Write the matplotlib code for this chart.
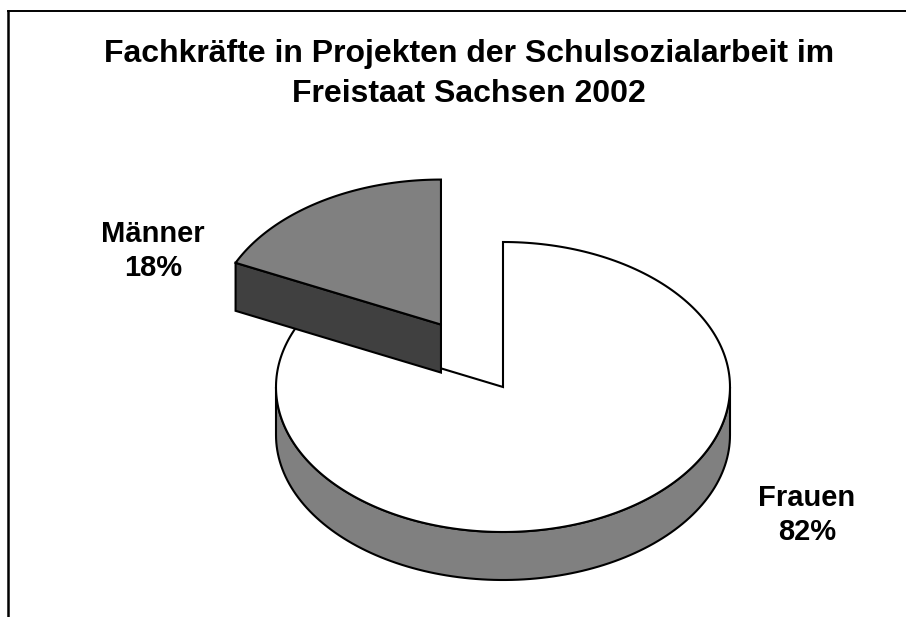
import numpy as np
import matplotlib
matplotlib.use("Agg")
import matplotlib.pyplot as plt
from matplotlib.patches import Polygon

# chart data
labels = ["Frauen", "Männer"]
shares = [82, 18]
title = "Fachkräfte in Projekten der Schulsozialarbeit im\nFreistaat Sachsen 2002"

# look of the 3d pie (pixel units)
cx, cy = 503, 387
rx, ry = 227, 145
depth = 48
explode = [0.0, 0.51]
top_colors = ["white", "#808080"]
wall_colors = ["#808080", "#404040"]
label_pos = [(807, 515), (153, 251)]

plt.rcParams["font.family"] = ["Liberation Sans", "DejaVu Sans"]

fig = plt.figure(figsize=(9.06, 6.17), dpi=100)
ax = fig.add_axes([0, 0, 1, 1])
ax.set_xlim(0, 906)
ax.set_ylim(617, 0)
ax.axis("off")


def pt(t, ox, oy, dz=0):
    r = np.radians(t)
    return cx + ox + rx * np.cos(r), cy + oy - ry * np.sin(r) + dz


# angles, clockwise from 12 o'clock like Excel
total = float(sum(shares))
edges = [90.0]
for s in shares:
    edges.append(edges[-1] - 360.0 * s / total)

for i in range(len(shares)):
    a0, a1 = edges[i], edges[i + 1]
    mid = np.radians((a0 + a1) / 2)
    ox = explode[i] * rx * np.cos(mid)
    oy = -explode[i] * ry * np.sin(mid)
    kw = dict(edgecolor="black", linewidth=1.5, joinstyle="miter")

    # outer wall, only the part that faces the viewer
    for k in (-1, 0, 1):
        lo = max(a1, k * 360 - 180)
        hi = min(a0, k * 360)
        if hi > lo:
            ts = np.linspace(lo, hi, 120)
            topp = [pt(t, ox, oy) for t in ts]
            bot = [pt(t, ox, oy, depth) for t in ts[::-1]]
            ax.add_patch(Polygon(topp + bot, closed=True,
                                 facecolor=wall_colors[i], **kw))

    # cut faces along the radius
    c_top = (cx + ox, cy + oy)
    c_bot = (cx + ox, cy + oy + depth)
    for t, vis in ((a0, np.cos(np.radians(a0)) < -1e-6),
                   (a1, np.cos(np.radians(a1)) > 1e-6)):
        if vis:
            p_top = pt(t, ox, oy)
            p_bot = pt(t, ox, oy, depth)
            ax.add_patch(Polygon([c_top, p_top, p_bot, c_bot], closed=True,
                                 facecolor=wall_colors[i], **kw))

    # top surface
    ts = np.linspace(a0, a1, 240)
    ax.add_patch(Polygon([c_top] + [pt(t, ox, oy) for t in ts], closed=True,
                         facecolor=top_colors[i], **kw))

    ax.text(label_pos[i][0], label_pos[i][1], f"{labels[i]}\n{shares[i]}%",
            ha="center", va="center", fontsize=21, fontweight="bold",
            linespacing=1.3)

ax.text(469, 74, title, ha="center", va="center", fontsize=23,
        fontweight="bold", linespacing=1.4)

# chart area border (cropped)
ax.plot([8, 906], [11, 11], color="black", linewidth=1.4, clip_on=False)
ax.plot([8, 8], [11, 617], color="black", linewidth=1.8, clip_on=False)

fig.savefig("out.png", dpi=100)
